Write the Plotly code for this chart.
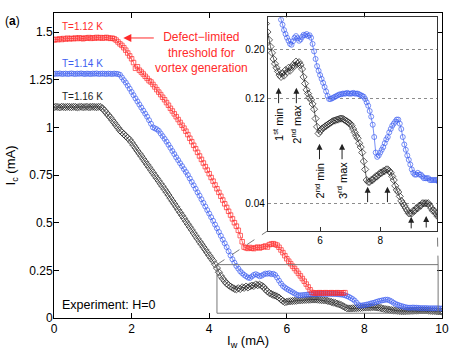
import math
import plotly.graph_objects as go

# wire current Iw (mA), sampled every 0.05 mA
I_W = [round(0.05 * i, 2) for i in range(201)]

# critical current Ic (mA)
IC_112 = [
    1.458, 1.462, 1.460, 1.465, 1.461, 1.466, 1.463, 1.468, 1.464, 1.467,
    1.465, 1.469, 1.466, 1.470, 1.467, 1.465, 1.469, 1.468, 1.471, 1.467,
    1.470, 1.468, 1.472, 1.469, 1.471, 1.468, 1.470, 1.472, 1.469, 1.467,
    1.468, 1.465, 1.458, 1.448, 1.438, 1.430, 1.418, 1.405, 1.390, 1.375,
    1.360, 1.340, 1.310, 1.318, 1.300, 1.290, 1.280, 1.268, 1.257, 1.245,
    1.238, 1.225, 1.212, 1.198, 1.185, 1.172, 1.158, 1.145, 1.130, 1.116,
    1.100, 1.086, 1.071, 1.056, 1.041, 1.026, 1.011, 0.996, 0.980, 0.962,
    0.943, 0.925, 0.906, 0.888, 0.869, 0.850, 0.832, 0.813, 0.794, 0.776,
    0.757, 0.737, 0.718, 0.698, 0.678, 0.659, 0.639, 0.619, 0.599, 0.580,
    0.560, 0.540, 0.520, 0.500, 0.482, 0.460, 0.432, 0.400, 0.372, 0.368,
    0.365, 0.370, 0.366, 0.364, 0.369, 0.372, 0.367, 0.371, 0.374, 0.378,
    0.372, 0.385, 0.388, 0.390, 0.386, 0.382, 0.371, 0.357, 0.343, 0.327,
    0.311, 0.298, 0.285, 0.272, 0.260, 0.247, 0.234, 0.221, 0.207, 0.193,
    0.178, 0.163, 0.148, 0.134, 0.131, 0.132, 0.131, 0.133, 0.132, 0.131,
    0.133, 0.132, 0.131, 0.133, 0.132, 0.131, 0.133, 0.132, 0.131, 0.132,
    0.133,
]

IC_114 = [
    1.280, 1.282, 1.281, 1.283, 1.280, 1.281, 1.282, 1.280, 1.281, 1.283,
    1.281, 1.280, 1.282, 1.281, 1.283, 1.281, 1.280, 1.282, 1.281, 1.280,
    1.282, 1.281, 1.283, 1.280, 1.281, 1.282, 1.281, 1.280, 1.282, 1.281,
    1.280, 1.282, 1.281, 1.280, 1.276, 1.262, 1.248, 1.235, 1.219, 1.203,
    1.186, 1.169, 1.152, 1.136, 1.120, 1.104, 1.088, 1.072, 1.056, 1.038,
    1.019, 1.000, 0.995, 0.990, 0.982, 0.968, 0.954, 0.940, 0.925, 0.909,
    0.893, 0.876, 0.860, 0.843, 0.828, 0.812, 0.797, 0.781, 0.766, 0.750,
    0.732, 0.714, 0.696, 0.678, 0.659, 0.642, 0.623, 0.604, 0.585, 0.566,
    0.548, 0.529, 0.510, 0.490, 0.471, 0.451, 0.431, 0.411, 0.392, 0.372,
    0.350, 0.328, 0.308, 0.290, 0.273, 0.259, 0.245, 0.235, 0.226, 0.219,
    0.212, 0.210, 0.218, 0.226, 0.230, 0.225, 0.219, 0.222, 0.228, 0.233,
    0.232, 0.235, 0.230, 0.232, 0.226, 0.212, 0.196, 0.181, 0.168, 0.160,
    0.153, 0.147, 0.141, 0.135, 0.129, 0.123, 0.119, 0.119, 0.120, 0.121,
    0.122, 0.123, 0.124, 0.125, 0.125, 0.126, 0.126, 0.126, 0.127, 0.126,
    0.126, 0.126, 0.127, 0.126, 0.126, 0.126, 0.125, 0.124, 0.123, 0.122,
    0.119, 0.115, 0.111, 0.105, 0.099, 0.091, 0.080, 0.068, 0.065, 0.066,
    0.068, 0.070, 0.072, 0.075, 0.078, 0.080, 0.084, 0.087, 0.090, 0.092,
    0.094, 0.096, 0.096, 0.092, 0.087, 0.080, 0.074, 0.070, 0.066, 0.063,
    0.060, 0.057, 0.055, 0.054, 0.054, 0.055, 0.054, 0.054, 0.053, 0.052,
    0.052, 0.052, 0.052, 0.051, 0.051, 0.051, 0.051, 0.051, 0.051, 0.050,
    0.050,
]

IC_116 = [
    1.106, 1.108, 1.107, 1.105, 1.108, 1.107, 1.106, 1.108, 1.107, 1.106,
    1.108, 1.107, 1.105, 1.107, 1.108, 1.106, 1.107, 1.108, 1.106, 1.107,
    1.108, 1.107, 1.106, 1.108, 1.107, 1.100, 1.088, 1.076, 1.064, 1.052,
    1.038, 1.025, 1.011, 0.998, 0.984, 0.974, 0.964, 0.954, 0.945, 0.935,
    0.921, 0.906, 0.892, 0.877, 0.863, 0.849, 0.834, 0.820, 0.805, 0.791,
    0.776, 0.762, 0.747, 0.733, 0.719, 0.704, 0.690, 0.675, 0.660, 0.645,
    0.629, 0.614, 0.599, 0.584, 0.568, 0.553, 0.538, 0.523, 0.507, 0.492,
    0.477, 0.462, 0.446, 0.431, 0.416, 0.401, 0.387, 0.372, 0.358, 0.343,
    0.328, 0.314, 0.300, 0.282, 0.262, 0.240, 0.221, 0.206, 0.193, 0.181,
    0.172, 0.165, 0.159, 0.153, 0.150, 0.156, 0.152, 0.161, 0.158, 0.165,
    0.160, 0.166, 0.170, 0.168, 0.176, 0.172, 0.175, 0.170, 0.163, 0.150,
    0.140, 0.131, 0.126, 0.121, 0.118, 0.113, 0.107, 0.097, 0.089, 0.083,
    0.085, 0.087, 0.088, 0.089, 0.090, 0.091, 0.092, 0.093, 0.094, 0.095,
    0.095, 0.096, 0.096, 0.097, 0.097, 0.097, 0.096, 0.095, 0.094, 0.093,
    0.092, 0.090, 0.087, 0.084, 0.081, 0.079, 0.075, 0.072, 0.068, 0.062,
    0.057, 0.051, 0.050, 0.050, 0.051, 0.051, 0.052, 0.053, 0.053, 0.054,
    0.055, 0.055, 0.056, 0.056, 0.057, 0.057, 0.056, 0.055, 0.053, 0.051,
    0.048, 0.046, 0.045, 0.043, 0.041, 0.040, 0.039, 0.038, 0.037, 0.036,
    0.036, 0.036, 0.037, 0.037, 0.038, 0.038, 0.039, 0.039, 0.040, 0.040,
    0.040, 0.040, 0.040, 0.039, 0.038, 0.037, 0.037, 0.036, 0.035, 0.035,
    0.034,
]

TEMPS = ["T=1.12 K", "T=1.14 K", "T=1.16 K"]
X_TICKS = [0, 2, 4, 6, 8, 10]
Y_TICKS = [0, 0.25, 0.5, 0.75, 1, 1.25, 1.5]
Y_TEXT = ["0", "0.25", "0.5", "0.75", "1", "1.25", "1.5"]
INSET_X_TICKS = [6, 8]
INSET_Y_TICKS = [0.04, 0.12, 0.20]
INSET_Y_TEXT = ["0.04", "0.12", "0.20"]

# inset extrema: label, Iw at arrow, Ic at arrow head, Ic at label centre
EXTREMA = [
    ("1<sup>st</sup> min", 4.62, 0.134, 0.0913),
    ("2<sup>nd</sup> max", 5.21, 0.134, 0.0913),
    ("2<sup>nd</sup> min", 5.98, 0.0746, 0.0505),
    ("3<sup>rd</sup> max", 6.73, 0.0746, 0.0505),
]
# unlabelled arrows: Iw, Ic at head
MORE_ARROWS = [(7.58, 0.0476), (8.24, 0.0476), (9.03, 0.0347), (9.53, 0.0350)]

FONT = "Liberation Sans, Arial, sans-serif"
RED = "#ff2a2a"
BLUE = "#3d5ef0"
BLACK = "#1e1e1e"

MAIN_X = [0, 10]
MAIN_Y = [0, 1.6]
INSET_X = [4.26, 9.9]
INSET_Y = [0.03, 0.28]
INSET_DOM_X = [0.551, 0.988]
INSET_DOM_Y = [0.286, 0.986]
ZOOM_X = [4.2, 9.9]
ZOOM_Y = [0.025, 0.28]


def main_paper(x, y):
    return ((x - MAIN_X[0]) / (MAIN_X[1] - MAIN_X[0]),
            (y - MAIN_Y[0]) / (MAIN_Y[1] - MAIN_Y[0]))


def inset_paper(x, y):
    fx = (x - INSET_X[0]) / (INSET_X[1] - INSET_X[0])
    fy = (math.log(y) - math.log(INSET_Y[0])) / (
        math.log(INSET_Y[1]) - math.log(INSET_Y[0]))
    return (INSET_DOM_X[0] + fx * (INSET_DOM_X[1] - INSET_DOM_X[0]),
            INSET_DOM_Y[0] + fy * (INSET_DOM_Y[1] - INSET_DOM_Y[0]))


series = [
    (IC_116, BLACK, "diamond-open", 5.5),
    (IC_114, BLUE, "circle-open", 5),
    (IC_112, RED, "square-open", 4.5),
]

fig = go.Figure()
for ys, color, symbol, size in series:
    fig.add_trace(go.Scatter(
        x=I_W[:len(ys)], y=ys, mode="lines+markers",
        marker=dict(symbol=symbol, size=size, color=color,
                    line=dict(width=0.7, color=color)),
        line=dict(color=color, width=0.7),
        xaxis="x", yaxis="y", showlegend=False))

# inset only shows the two warmer curves
for ys, color, symbol, size in series[:2]:
    fig.add_trace(go.Scatter(
        x=I_W[:len(ys)], y=ys, mode="lines+markers",
        marker=dict(symbol=symbol, size=size, color=color,
                    line=dict(width=0.7, color=color)),
        line=dict(color=color, width=0.7),
        xaxis="x2", yaxis="y2", showlegend=False))

fig.update_layout(
    width=452, height=357,
    margin=dict(l=54, r=10, t=13, b=39),
    paper_bgcolor="white", plot_bgcolor="white",
    font=dict(family=FONT, size=12, color="black"),
    showlegend=False,
    xaxis=dict(range=MAIN_X, tickvals=X_TICKS, ticks="inside", ticklen=5,
               tickcolor="black", showline=True, linecolor="black",
               linewidth=1, mirror="ticks", showgrid=False, zeroline=False,
               automargin=False, tickfont=dict(size=12),
               title=dict(text="I<sub>w</sub> (mA)", font=dict(size=13),
                          standoff=0)),
    yaxis=dict(range=MAIN_Y, tickvals=Y_TICKS, ticktext=Y_TEXT,
               ticks="inside", ticklen=5, tickcolor="black", showline=True,
               linecolor="black", linewidth=1, mirror="ticks",
               showgrid=False, zeroline=False, automargin=False,
               tickfont=dict(size=12), ticklabelstandoff=-2,
               title=dict(text="I<sub>c</sub> (mA)", font=dict(size=13),
                          standoff=10)),
    xaxis2=dict(domain=INSET_DOM_X, anchor="y2", range=INSET_X,
                tickvals=INSET_X_TICKS, ticks="inside", ticklen=4,
                tickcolor="#333", showline=True, linecolor="#333",
                linewidth=1, mirror=True, showgrid=False, zeroline=False,
                automargin=False, tickfont=dict(size=10)),
    yaxis2=dict(domain=INSET_DOM_Y, anchor="x2", type="log",
                range=[math.log10(INSET_Y[0]), math.log10(INSET_Y[1])],
                tickvals=INSET_Y_TICKS, ticktext=INSET_Y_TEXT, ticks="",
                showgrid=True, gridcolor="#8c8c8c", griddash="dot",
                gridwidth=1, showline=True, linecolor="#333", linewidth=1,
                mirror=True, zeroline=False, automargin=False,
                tickfont=dict(size=10)),
)

# zoom box on the main axes and the dashed lines to the inset
fig.add_shape(type="rect", xref="x", yref="y",
              x0=ZOOM_X[0], x1=ZOOM_X[1], y0=ZOOM_Y[0], y1=ZOOM_Y[1],
              line=dict(color="#777", width=1))
for zx, ix in [(ZOOM_X[0], INSET_X[0]), (ZOOM_X[1], INSET_X[1])]:
    px0, py0 = main_paper(zx, ZOOM_Y[1])
    px1, py1 = inset_paper(ix, INSET_Y[0])
    fig.add_shape(type="line", xref="paper", yref="paper",
                  x0=px0, y0=py0, x1=px1, y1=py1,
                  line=dict(color="#555", width=0.8, dash="dash"))

# temperature labels
for text, color, y in zip(TEMPS, [RED, BLUE, BLACK], [1.53, 1.334, 1.16]):
    fig.add_annotation(x=0.15, y=y, xref="x", yref="y", text=text,
                       showarrow=False, xanchor="left",
                       font=dict(size=10, color=color))

fig.add_annotation(x=3.79, y=1.395, xref="x", yref="y",
                   text="Defect−limited<br>threshold for<br>vortex generation",
                   showarrow=False, align="center", xanchor="center",
                   font=dict(size=12, color=RED))
fig.add_annotation(x=1.786, y=1.469, xref="x", yref="y", text="",
                   showarrow=True, ax=32, ay=0, arrowhead=2, arrowsize=1.6,
                   arrowwidth=1, arrowcolor=RED)

fig.add_annotation(x=0.15, y=0.067, xref="x", yref="y",
                   text="Experiment: H=0", showarrow=False, xanchor="left",
                   font=dict(size=12.5))

fig.add_annotation(x=-0.108, y=1.003, xref="paper", yref="paper",
                   text="(<b>a</b>)", showarrow=False, xanchor="center",
                   font=dict(size=12))

# inset arrows and rotated extremum labels
for label, xa, yhead, ylabel in EXTREMA:
    fig.add_annotation(x=xa, y=math.log10(yhead), xref="x2", yref="y2",
                       text="", showarrow=True, ax=0, ay=17, arrowhead=2,
                       arrowsize=1.2, arrowwidth=1, arrowcolor="#222")
    fig.add_annotation(x=xa, y=math.log10(ylabel), xref="x2", yref="y2",
                       text=label, showarrow=False, textangle=-90,
                       xanchor="center", font=dict(size=11))
for xa, yhead in MORE_ARROWS:
    fig.add_annotation(x=xa, y=math.log10(yhead), xref="x2", yref="y2",
                       text="", showarrow=True, ax=0,
                       ay=17 if yhead > 0.04 else 13, arrowhead=2,
                       arrowsize=1.2, arrowwidth=1, arrowcolor="#222")

fig.write_html("out.html", config={"displayModeBar": False},
               post_script="document.body.style.margin='0';")
